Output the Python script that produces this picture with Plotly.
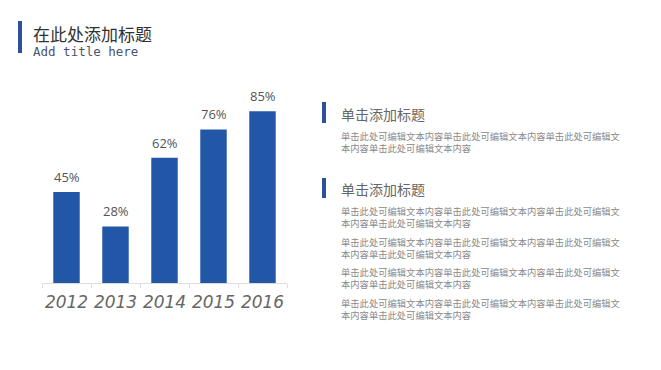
import plotly.graph_objects as go

W, H = 661, 370

years = ["2012", "2013", "2014", "2015", "2016"]
values = [45, 28, 62, 76, 85]
value_labels = ["45%", "28%", "62%", "76%", "85%"]

title_cn = "在此处添加标题"
title_en = "Add title here"
heading = "单击添加标题"
body_line1 = "单击此处可编辑文本内容单击此处可编辑文本内容单击此处可编辑文"
body_line2 = "本内容单击此处可编辑文本内容"

BLUE = "#2257a8"
CJK = "Noto Sans CJK SC"


def px_x(x):
    return x / W


def px_y(y):
    return 1 - y / H


fig = go.Figure()
fig.add_trace(go.Bar(
    x=years, y=values, marker=dict(color=BLUE, line=dict(width=0)),
    width=0.54, hoverinfo="skip",
))

annotations = []
for i, (v, lab) in enumerate(zip(values, value_labels)):
    annotations.append(dict(
        x=i, y=v, xref="x", yref="y", text=lab, showarrow=False,
        yanchor="bottom", yshift=4,
        font=dict(family="Open Sans, " + CJK, size=13, color="#555555"),
    ))

# header (one text block: Chinese title over English subtitle)
annotations.append(dict(
    x=px_x(31), y=px_y(40), xref="paper", yref="paper",
    text=(f"<span style='font-family:{CJK};font-size:17px;color:#333333'>{title_cn}</span>"
          f"<br><span style='font-size:12.5px'>{title_en}</span>"),
    showarrow=False, xanchor="left", yanchor="middle", align="left",
    font=dict(family="DejaVu Sans Mono", size=11.7, color="#4a5570"),
))

# right side text blocks
head_ys = [114, 189]
for hy in head_ys:
    annotations.append(dict(
        x=px_x(339), y=px_y(hy), xref="paper", yref="paper", text=heading,
        showarrow=False, xanchor="left", yanchor="middle",
        font=dict(family=CJK, size=14, color="#666666"),
    ))

para_ys = [142.5, 217, 247.5, 278, 309]
para_text = f"{body_line1}<br>{body_line2}"
for py in para_ys:
    annotations.append(dict(
        x=px_x(339), y=px_y(py), xref="paper", yref="paper", text=para_text,
        showarrow=False, xanchor="left", yanchor="middle", align="left",
        font=dict(family=CJK, size=9.3, color="#8a8a8a"),
    ))

shapes = [
    dict(type="rect", xref="paper", yref="paper",
         x0=px_x(18), x1=px_x(22), y0=px_y(53), y1=px_y(21),
         fillcolor="#2f4f9a", line=dict(width=0)),
]
for y0, y1 in ((102, 123), (178, 198)):
    shapes.append(dict(type="rect", xref="paper", yref="paper",
                       x0=px_x(322), x1=px_x(326), y0=px_y(y1), y1=px_y(y0),
                       fillcolor="#2f4f9a", line=dict(width=0)))

fig.update_layout(
    width=W, height=H, margin=dict(l=0, r=0, t=0, b=0, pad=0, autoexpand=False),
    paper_bgcolor="white", plot_bgcolor="white",
    showlegend=False,
    xaxis=dict(
        type="category", automargin=False, range=[-0.5, len(years) - 0.5],
        domain=[px_x(42), px_x(287)], showgrid=False, zeroline=False,
        showline=True, linecolor="#dddddd", linewidth=1,
        ticks="outside", tickson="boundaries", ticklen=4, tickcolor="#dddddd",
        tickangle=0,
        tickfont=dict(family="DejaVu Sans", size=17, color="#666666", style="italic"),
        ticklabelstandoff=4, fixedrange=True,
    ),
    yaxis=dict(
        domain=[px_y(283), px_y(81)], range=[0, 100], visible=False,
        automargin=False, fixedrange=True,
    ),
    annotations=annotations, shapes=shapes,
)

fig.write_html(
    "out.html",
    config={"displayModeBar": False},
    post_script="document.body.style.margin='0';document.body.style.padding='0';",
)
